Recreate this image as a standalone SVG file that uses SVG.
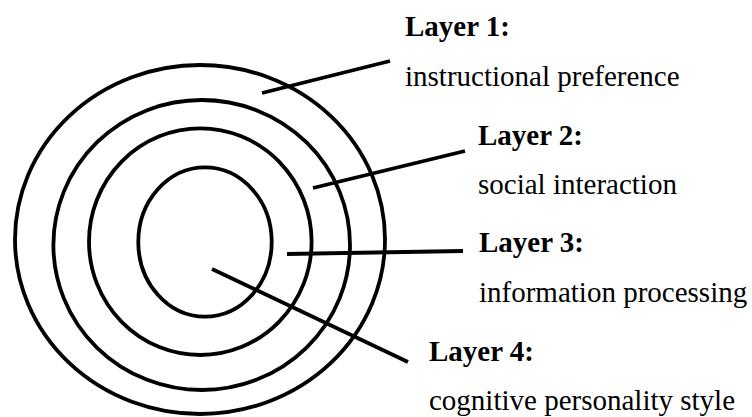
<svg xmlns="http://www.w3.org/2000/svg" width="752" height="417" viewBox="0 0 752 417">
<style>
.ring{fill:none;stroke:#000;stroke-width:3.8}
.con{stroke:#000;stroke-width:3.8;stroke-linecap:butt}
.t{font-family:"Liberation Serif","Times New Roman",serif;font-size:29px;fill:#000}
.b{font-weight:bold}
</style>
<rect width="752" height="417" fill="#fff"/>
<g id="layer1"><ellipse class="ring" cx="200" cy="239.5" rx="185" ry="174.5"/>
<text class="t b" x="405" y="36">Layer 1:</text>
<text class="t" x="405" y="86">instructional preference</text></g>
<g id="layer2"><ellipse class="ring" cx="201.7" cy="245" rx="148.3" ry="145"/>
<text class="t b" x="478" y="145">Layer 2:</text>
<text class="t" x="478" y="194">social interaction</text></g>
<g id="layer3"><ellipse class="ring" cx="200.3" cy="241.7" rx="111.3" ry="113.3"/>
<text class="t b" x="479" y="252">Layer 3:</text>
<text class="t" x="479" y="302">information processing</text></g>
<g id="layer4"><ellipse class="ring" cx="205" cy="242" rx="66.7" ry="74.7"/>
<text class="t b" x="429" y="361">Layer 4:</text>
<text class="t" x="429" y="410">cognitive personality style</text></g>
<g id="connectors">
<line class="con" x1="262" y1="93" x2="390" y2="61"/>
<line class="con" x1="313" y1="188" x2="465" y2="151"/>
<line class="con" x1="287" y1="254" x2="463" y2="251"/>
<line class="con" x1="212" y1="269" x2="408" y2="362"/>
</g>
</svg>
